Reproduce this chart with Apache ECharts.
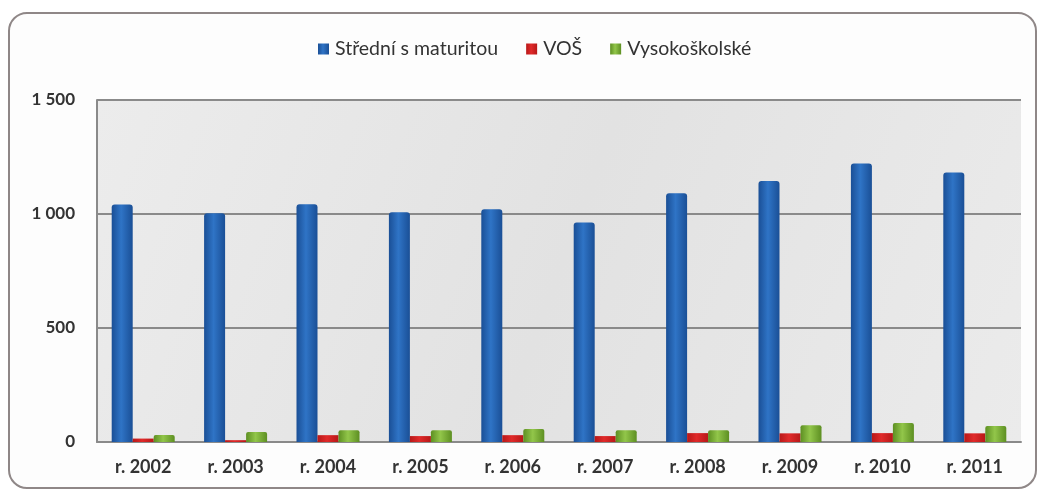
<!DOCTYPE html>
<html>
<head>
<meta charset="utf-8">
<script src="https://cdn.jsdelivr.net/npm/echarts@6/dist/echarts.min.js"></script>
<style>
html,body{margin:0;padding:0;background:#fff;}
#c{width:1038px;height:495px;}
</style>
</head>
<body>
<div id="c"></div>
<script>
const categories = ['r. 2002','r. 2003','r. 2004','r. 2005','r. 2006','r. 2007','r. 2008','r. 2009','r. 2010','r. 2011'];
const seriesNames = ['Střední s maturitou','VOŠ','Vysokoškolské'];
const stredni = [1042, 1003, 1043, 1008, 1021, 963, 1091, 1145, 1221, 1182];
const vos = [15, 8, 30, 26, 30, 26, 39, 38, 39, 38];
const vysoko = [31, 44, 52, 52, 57, 52, 52, 74, 83, 70];
const yTicks = [0, 500, 1000, 1500];

function grad(dark, light) {
  return new echarts.graphic.LinearGradient(0, 0, 1, 0, [
    {offset: 0, color: dark},
    {offset: 0.45, color: light},
    {offset: 1, color: dark}
  ]);
}

const chart = echarts.init(document.getElementById('c'), null, {renderer: 'canvas'});
const font = 'Lato, "Open Sans", sans-serif';
chart.setOption({
  backgroundColor: '#ffffff',
  animation: false,
  graphic: [
    {
      type: 'rect', z: -10,
      shape: {x: 9, y: 13, width: 1027, height: 475, r: 18},
      style: {fill: '#fdfdfd', stroke: '#8f8787', lineWidth: 2}
    }
  ],
  legend: {
    top: 34, left: 313,
    itemWidth: 11, itemHeight: 11, itemGap: 28,
    icon: 'rect',
    textStyle: {fontFamily: font, fontSize: 19.5, color: '#333', padding: [0, 0, 0, 1]},
    data: seriesNames
  },
  grid: {
    left: 97, right: 17, top: 100, bottom: 53,
    show: true,
    backgroundColor: new echarts.graphic.LinearGradient(0, 0, 1, 1, [
      {offset: 0, color: '#ececec'},
      {offset: 0.5, color: '#e2e2e2'},
      {offset: 1, color: '#ebebeb'}
    ]),
    borderWidth: 0
  },
  xAxis: {
    type: 'category',
    data: categories,
    axisLine: {show: true, lineStyle: {color: '#8a8a8a', width: 2}},
    axisTick: {show: false},
    axisLabel: {fontFamily: font, fontSize: 18, fontWeight: 'bold', color: '#333', margin: 16}
  },
  yAxis: {
    type: 'value',
    min: 0, max: 1500, interval: 500,
    axisLine: {show: true, lineStyle: {color: '#8a8a8a', width: 2}},
    axisTick: {show: false},
    splitLine: {show: true, lineStyle: {color: '#8a8a8a', width: 2}},
    axisLabel: {
      fontFamily: font, fontSize: 17, fontWeight: 'bold', color: '#333', margin: 22,
      formatter: function (v) { return yTicks.indexOf(v) >= 0 ? String(v).replace(/\B(?=(\d{3})+(?!\d))/g, ' ') : ''; }
    }
  },
  series: [
    {
      name: seriesNames[0], type: 'bar', data: stredni, barWidth: 21, barGap: '0%',
      itemStyle: {color: grad('#1a4f96', '#2f74c6'), borderRadius: [3, 3, 0, 0]}
    },
    {
      name: seriesNames[1], type: 'bar', data: vos, barWidth: 21, barGap: '0%',
      itemStyle: {color: grad('#b81818', '#e02a2a')}
    },
    {
      name: seriesNames[2], type: 'bar', data: vysoko, barWidth: 21, barGap: '0%',
      itemStyle: {color: grad('#5d8f22', '#92c64a'), borderRadius: [2, 2, 0, 0]}
    }
  ],
  color: ['#2563b5', '#d42222', '#7eb33a']
});
</script>
</body>
</html>
